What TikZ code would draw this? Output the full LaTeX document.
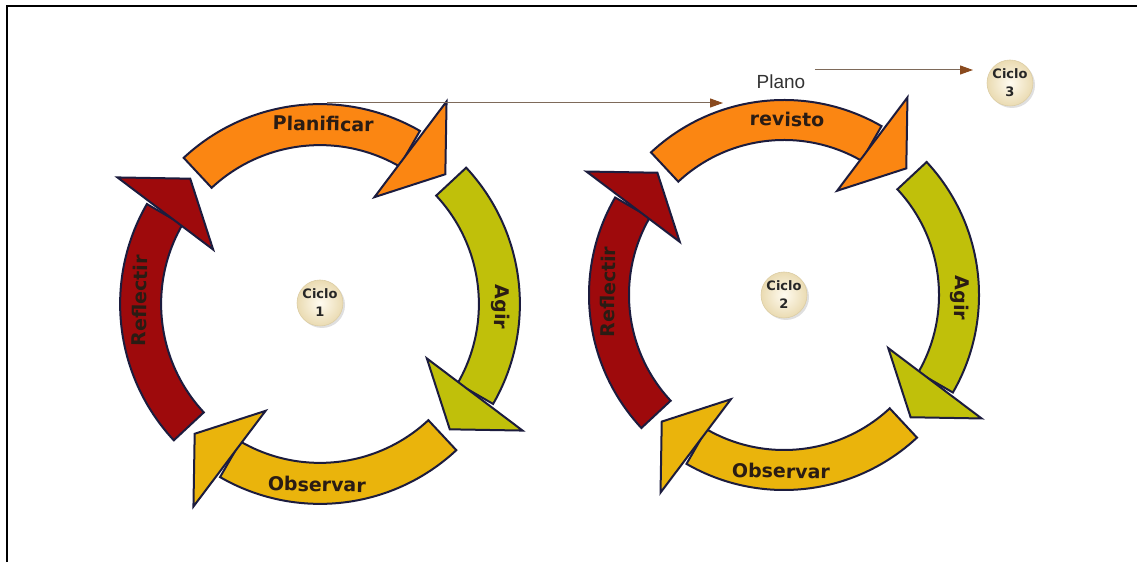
\documentclass[tikz,border=0pt]{standalone}
\usepackage{fontspec}
\setmainfont{Liberation Sans}
\newfontfamily\verd{DejaVu Sans}
\usetikzlibrary{arrows.meta,shadows}

\definecolor{planif}{HTML}{FB8612}
\definecolor{agir}{HTML}{C0C00A}
\definecolor{observ}{HTML}{EAB40C}
\definecolor{reflect}{HTML}{9E0A0C}
\definecolor{bandline}{HTML}{1C1C3E}
\definecolor{lbltext}{HTML}{2A1C14}
\definecolor{bubblein}{HTML}{FFFBF0}
\definecolor{bubbleout}{HTML}{EADBB2}
\definecolor{bubbleline}{HTML}{DCCDA4}
\definecolor{linkgrey}{HTML}{7E6A5A}
\definecolor{arrowbrown}{HTML}{8A4A1E}

\begin{document}
\begin{tikzpicture}[x=1pt, y=1pt,
    band/.style={draw=bandline, line width=2pt, line join=miter},
    lbl/.style={font=\verd\bfseries\fontsize{19}{23}\selectfont, text=lbltext, inner sep=0pt},
    bubble/.style={circle, minimum size=46pt, inner sep=0pt, align=center,
        draw=bubbleline, line width=0.6pt, inner color=bubblein, outer color=bubbleout,
        drop shadow={opacity=0.25, shadow xshift=2pt, shadow yshift=-2pt},
        font=\verd\bfseries\fontsize{13}{18}\selectfont, text=black!85},
    link/.style={draw=linkgrey, line width=1pt, -{Triangle[length=13pt, width=9pt, color=arrowbrown]}}]
    \useasboundingbox (0,0) rectangle (1137,562);

    % frame
    \draw[line width=2pt] (7,0) -- (7,556) -- (1137,556);

    % the two cycles
    \foreach \cx/\cy/\s/\k/\first in {320/258/1.025/1/Planificar, 784/267/1/2/revisto} {
        \begin{scope}[shift={(\cx,\cy)}, scale=\s]
        \foreach \i/\col/\txt in {0/planif/\first, 1/agir/Agir, 2/observ/Observar, 3/reflect/Reflectir} {
            \pgfmathsetmacro{\a}{133-90*\i}
            \pgfmathsetmacro{\b}{\a-73}
            \pgfmathsetmacro{\ho}{\a-75}
            \pgfmathsetmacro{\hi}{\a-70}
            \pgfmathsetmacro{\tp}{\a-87}
            \pgfmathsetmacro{\m}{\a-44}
            \pgfmathsetmacro{\r}{\i==2 ? \m+90 : \m-90}
            \filldraw[band, fill=\col] (\a:195) arc[start angle=\a, end angle=\b, radius=195]
                -- (\b:155) arc[start angle=\b, end angle=\a, radius=155] -- cycle;
            \filldraw[band, fill=\col] (\ho:233) -- (\tp:176) -- (\hi:117) -- cycle;
            \node[lbl, rotate=\r] (lbl\k\i) at (\m:176) {\txt};
        }
        \end{scope}
    }

    \node[bubble] (ciclo1) at (320,259) {Ciclo\\1};
    \node[bubble] (ciclo2) at (784,267) {Ciclo\\2};
    \node[bubble] (ciclo3) at (1010,479) {Ciclo\\3};
    \node[font=\fontsize{19}{22}\selectfont, text=black!80] (plano) at (781,480) {Plano};

    \coordinate (start1) at (327,459);
    \coordinate (end1) at (723,459);
    \coordinate (end2) at (973,492);
    \draw[link] (start1) -- (end1);
    \draw[link] (plano.north east |- end2) ++(6,0) -- (end2);
\end{tikzpicture}
\end{document}
